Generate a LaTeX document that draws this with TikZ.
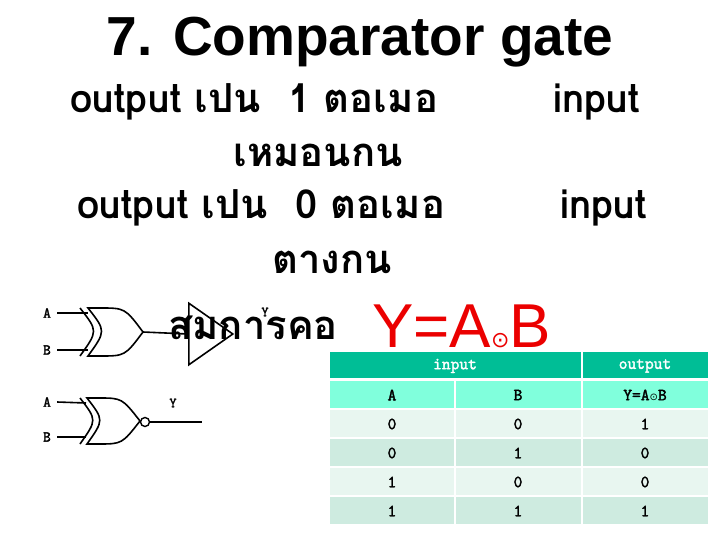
\documentclass[tikz,border=0pt]{standalone}
\usepackage{fontspec}
\usetikzlibrary{shapes.geometric}
\setmainfont{Liberation Sans}
\newfontfamily\thai[Script=Thai]{Loma}
\newfontfamily\dv{DejaVu Sans}
\newfontfamily\cour[FakeBold=2.2]{Latin Modern Mono}
\definecolor{hd}{RGB}{0,190,150}
\definecolor{sh}{RGB}{128,255,220}
\definecolor{ra}{RGB}{232,246,240}
\definecolor{rb}{RGB}{206,235,224}
\definecolor{rd}{RGB}{235,0,0}
\begin{document}
\begin{tikzpicture}[x=1pt,y=-1pt,
  th/.style={font=\thai\bfseries\fontsize{40}{40}\selectfont,inner sep=0},
  tc/.style={font=\cour\fontsize{17}{17}\selectfont,inner sep=0},
  lbl/.style={font=\cour\fontsize{15}{15}\selectfont,inner sep=0},
  gl/.style={line width=1.6pt}]
\useasboundingbox (0,0) rectangle (720,540);
% title and text
\node[font=\bfseries\fontsize{55}{55}\selectfont,inner sep=0] (t) at (360,42) {7. Comparator gate};
\node[th,anchor=west] (l1) at (70,102) {output เปน\ \ 1 ตอเมอ};
\node[th,anchor=west] (i1) at (553,102) {input};
\node[th] (l2) at (318,155) {เหมอนกน};
\node[th,anchor=west] (l3) at (77,208) {output เปน\ \ 0 ตอเมอ};
\node[th,anchor=west] (i2) at (560,208) {input};
\node[th] (l4) at (332,262) {ตางกน};
\node[th,anchor=west] (eq) at (168,328) {สมการคอ};
\node[anchor=west,text=rd,inner sep=0,font=\fontsize{62}{62}\selectfont] (f) at (372,326) {Y=A{\dv\fontsize{22}{22}\selectfont ⊙}B};
% top gate
\node[lbl] (a1) at (47,313) {A};
\node[lbl] (b1) at (47,350) {B};
\coordinate (ga1) at (88,313); \coordinate (gb1) at (88,350);
\draw[gl] (a1.east)++(6,0) -- (ga1);
\draw[gl] (b1.east)++(6,0) -- (gb1);
\draw[gl] (80,308) .. controls (98,331) .. (80,356);
\draw[gl] (88,308) .. controls (106,331) .. (88,356) -- (100,356) .. controls (125,356) .. (143,332) .. controls (125,308) .. (100,308) -- cycle;
\coordinate (o1) at (143,332);
\node[draw,line width=1.6pt,isosceles triangle,isosceles triangle apex angle=70,minimum height=44pt,inner sep=0,anchor=west] (buf) at (188,334) {};
\draw[gl] (o1) -- (buf.west);
\node[lbl,font=\cour\fontsize{14}{14}\selectfont] (y1) at (265,312) {Y};
% bottom gate
\node[lbl] (a2) at (47,402) {A};
\node[lbl] (b2) at (47,437) {B};
\draw[gl] (a2.east)++(6,0) -- (86,403);
\draw[gl] (b2.east)++(6,0) -- (86,437);
\draw[gl] (80,398) .. controls (97,420) .. (80,444);
\draw[gl] (87,398) .. controls (104,420) .. (87,444) -- (98,444) .. controls (122,444) .. (140,421) .. controls (122,398) .. (98,398) -- cycle;
\node[draw,circle,line width=1.4pt,minimum size=9pt,inner sep=0] (bub) at (145,422) {};
\coordinate (yo) at (202,422);
\draw[gl] (bub.east) -- (yo);
\node[lbl,font=\cour\fontsize{14}{14}\selectfont] (y2) at (173,403) {Y};
% table
\fill[hd] (330,352) rectangle (581,378);
\fill[hd] (583,352) rectangle (708,378);
\foreach \x/\y in {330/454,456/581,583/708}{
  \fill[sh] (\x,381) rectangle (\y,408);
  \fill[ra] (\x,410) rectangle (\y,437);
  \fill[rb] (\x,439) rectangle (\y,466);
  \fill[ra] (\x,468) rectangle (\y,495);
  \fill[rb] (\x,497) rectangle (\y,524);}
\node[tc,text=white] (h1) at (455,366) {input};
\node[tc,text=white] (h2) at (645,366) {output};
\node[tc] (ca) at (392,395) {A};
\node[tc] (cb) at (518,395) {B};
\node[tc] (cy) at (645,395) {Y=A{\dv\fontsize{10}{10}\selectfont ⊙}B};
\foreach \r/\a/\b/\c in {0/0/0/1,1/0/1/0,2/1/0/0,3/1/1/1}{
  \node[tc] at (392,424+29*\r) {\a};
  \node[tc] at (518,424+29*\r) {\b};
  \node[tc] at (645,424+29*\r) {\c};}
\end{tikzpicture}
\end{document}
